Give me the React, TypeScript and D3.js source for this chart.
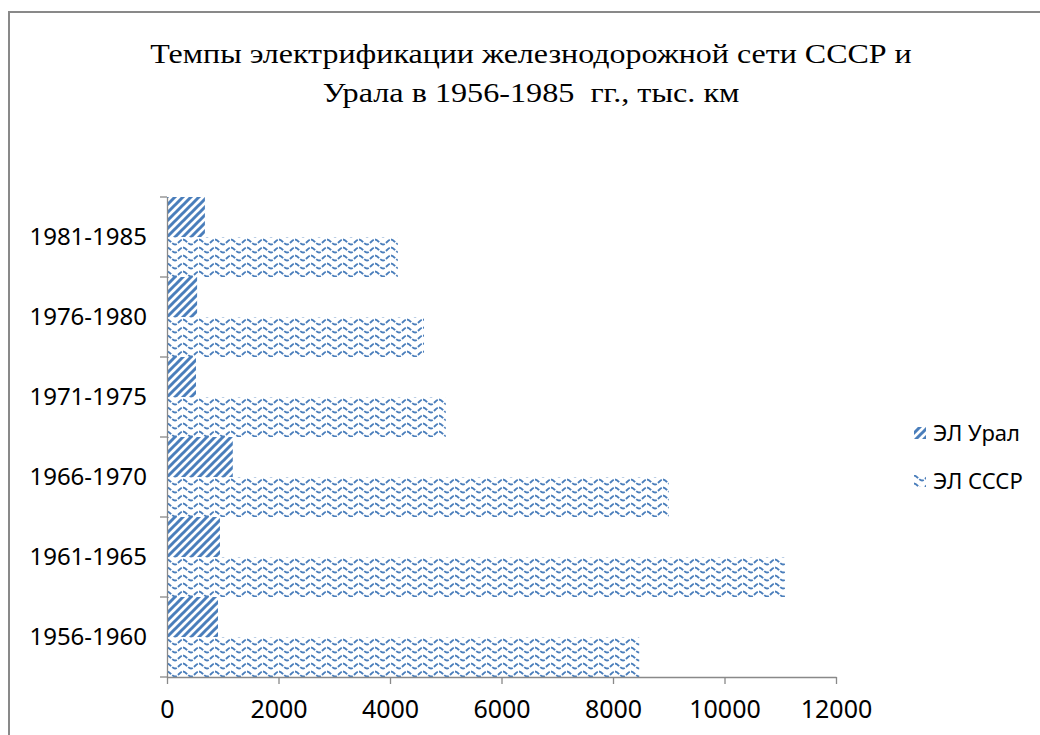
import React, { useEffect, useRef } from 'react';
import * as d3 from 'd3';

// periods (top to bottom as shown)
const periods = ['1981-1985', '1976-1980', '1971-1975', '1966-1970', '1961-1965', '1956-1960'];
// electrified km per period
const uralValues = [680, 540, 520, 1180, 950, 915];
const ussrValues = [4140, 4610, 5000, 9000, 11085, 8470];
const xTicks = [0, 2000, 4000, 6000, 8000, 10000, 12000];
const seriesNames = ['ЭЛ Урал', 'ЭЛ СССР'];
const titleLines = ['Темпы электрификации железнодорожной сети СССР и', 'Урала в 1956-1985  гг., тыс. км'];

const App = () => {
  const svgRef = useRef<SVGSVGElement>(null);

  useEffect(() => {
    const svg = d3.select(svgRef.current)
      .attr('width', 1040)
      .attr('height', 735);

    svg.selectAll('*').remove();

    const blue = '#4a7ebb';
    const gray = '#898989';
    const sans = '"Noto Sans", "Open Sans", sans-serif';

    // fill patterns
    const defs = svg.append('defs');
    const diag = defs.append('pattern')
      .attr('id', 'diag')
      .attr('patternUnits', 'userSpaceOnUse')
      .attr('width', 8)
      .attr('height', 8);
    diag.append('path')
      .attr('d', 'M-2,2 L2,-2 M0,8 L8,0 M6,10 L10,6')
      .attr('stroke', blue)
      .attr('stroke-width', 3);

    const wave = defs.append('pattern')
      .attr('id', 'wave')
      .attr('patternUnits', 'userSpaceOnUse')
      .attr('width', 16)
      .attr('height', 8)
      .attr('y', 1);
    wave.append('path')
      .attr('d', 'M0,1.5 C3,1.5 5,6.5 8,6.5 C11,6.5 13,1.5 16,1.5')
      .attr('fill', 'none')
      .attr('stroke', blue)
      .attr('stroke-width', 1.8)
      .attr('stroke-dasharray', '5,1.5');

    // chart frame (cropped on right & bottom)
    svg.append('rect')
      .attr('x', 9)
      .attr('y', 12)
      .attr('width', 1100)
      .attr('height', 800)
      .attr('fill', 'white')
      .attr('stroke', gray)
      .attr('stroke-width', 2);

    // title, stretched horizontally like the source picture
    const title = svg.append('g');
    titleLines.forEach((line, i) => {
      const t = title.append('text')
        .attr('text-anchor', 'middle')
        .attr('xml:space', 'preserve')
        .style('white-space', 'pre')
        .style('font-family', '"Liberation Serif", "Times New Roman", serif')
        .style('font-size', '28px')
        .attr('fill', '#000')
        .text(line);
      const w = (t.node() as SVGTextElement).getComputedTextLength();
      const sx = i === 0 ? 762 / w : 1.15;
      t.attr('transform', `translate(531,${63 + i * 39}) scale(${sx},1)`);
    });

    const margin = { top: 197, left: 167 };
    const width = 669;
    const height = 480;

    const g = svg.append('g')
      .attr('transform', `translate(${margin.left},${margin.top})`);

    const x = d3.scaleLinear().domain([0, 12000]).range([0, width]);
    const y = d3.scaleBand().domain(periods).range([0, height]);
    const sub = d3.scaleBand().domain(seriesNames).range([0, y.bandwidth()]);

    const rows = periods.map((p, i) => ({ p, ural: uralValues[i], ussr: ussrValues[i] }));

    g.selectAll('.ural')
      .data(rows)
      .join('rect')
      .attr('x', 0)
      .attr('y', d => y(d.p)! + sub(seriesNames[0])!)
      .attr('width', d => x(d.ural))
      .attr('height', sub.bandwidth())
      .attr('fill', 'url(#diag)');

    g.selectAll('.ussr')
      .data(rows)
      .join('rect')
      .attr('x', 0)
      .attr('y', d => y(d.p)! + sub(seriesNames[1])!)
      .attr('width', d => x(d.ussr))
      .attr('height', sub.bandwidth())
      .attr('fill', 'url(#wave)');

    // y axis
    const yAxis = g.append('g')
      .call(d3.axisLeft(y).tickSize(0).tickPadding(20));
    yAxis.select('.domain').attr('stroke', gray).attr('stroke-width', 1.3);
    yAxis.selectAll('text')
      .style('font-family', sans)
      .style('font-size', '24px')
      .attr('fill', '#000');
    // boundary ticks between categories
    g.append('g')
      .selectAll('line')
      .data(d3.range(periods.length + 1))
      .join('line')
      .attr('x1', -7)
      .attr('x2', 0)
      .attr('y1', i => i * y.step())
      .attr('y2', i => i * y.step())
      .attr('stroke', gray)
      .attr('stroke-width', 1.3);

    // x axis
    const xAxis = g.append('g')
      .attr('transform', `translate(0,${height})`)
      .call(d3.axisBottom(x).tickValues(xTicks).tickFormat(d3.format('d')).tickSize(7).tickPadding(16).tickSizeOuter(0));
    xAxis.select('.domain').attr('stroke', gray).attr('stroke-width', 1.3);
    xAxis.selectAll('line').attr('stroke', gray).attr('stroke-width', 1.3);
    xAxis.selectAll('text')
      .style('font-family', sans)
      .style('font-size', '25px')
      .attr('fill', '#000');

    // legend
    const legend = svg.append('g')
      .attr('transform', 'translate(914,433)');
    const fills = ['url(#diag)', 'url(#wave)'];
    seriesNames.forEach((name, i) => {
      const item = legend.append('g').attr('transform', `translate(0,${i * 48})`);
      item.append('rect')
        .attr('x', 0)
        .attr('y', -6)
        .attr('width', 12)
        .attr('height', 12)
        .attr('fill', fills[i]);
      item.append('text')
        .attr('x', 19)
        .attr('y', 0)
        .attr('dy', '0.35em')
        .style('font-family', sans)
        .style('font-size', '22px')
        .attr('fill', '#000')
        .text(name);
    });
  }, []);

  return <svg ref={svgRef} style={{ position: 'absolute', left: 0, top: 0 }}></svg>;
};

export default App;
